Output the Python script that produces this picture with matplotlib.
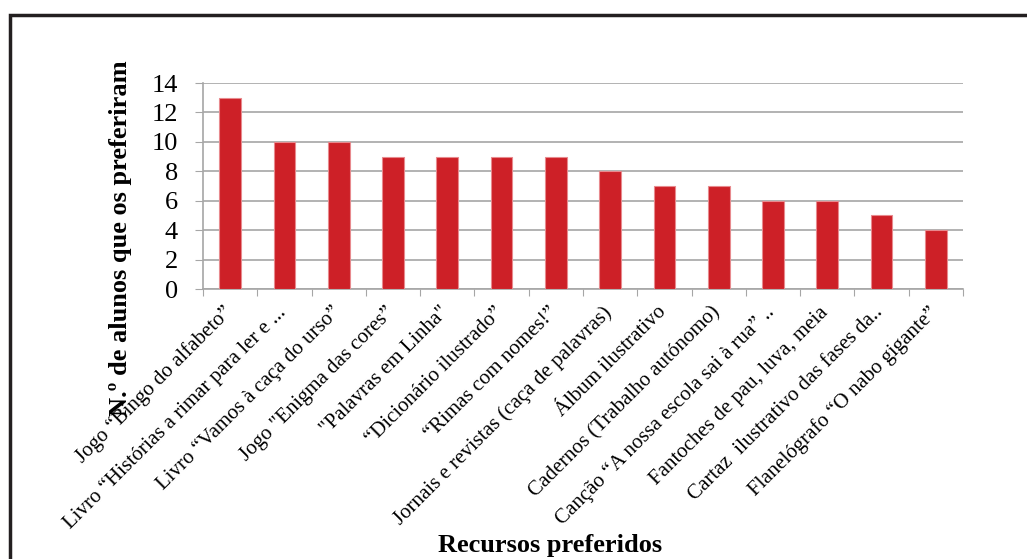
import matplotlib
matplotlib.use("Agg")
import matplotlib.pyplot as plt
import matplotlib.transforms as mtransforms
from matplotlib.patches import Rectangle
import numpy as np

recursos = [
    "Jogo “Bingo do alfabeto”",
    "Livro “Histórias a rimar para ler e ...",
    "Livro “Vamos à caça do urso”",
    "Jogo \"Enigma das cores”",
    "\"Palavras em Linha\"",
    "“Dicionário ilustrado”",
    "“Rimas com nomes!”",
    "Jornais e revistas (caça de palavras)",
    "Álbum ilustrativo",
    "Cadernos (Trabalho autónomo)",
    "Canção “A nossa escola sai à rua” ..",
    "Fantoches de pau, luva, meia",
    "Cartaz  ilustrativo das fases da..",
    "Flanelógrafo “O nabo gigante”",
]
n_alunos = [13, 10, 10, 9, 9, 9, 9, 8, 7, 7, 6, 6, 5, 4]
y_ticks = [0, 2, 4, 6, 8, 10, 12, 14]

plt.rcParams["font.family"] = ["Liberation Serif", "DejaVu Serif"]

fig = plt.figure(figsize=(10.27, 5.59), dpi=100)
ax = fig.add_axes([0.1977, 0.483, 0.740, 0.3685])

x = np.arange(len(recursos))
ax.bar(x, n_alunos, width=0.4, color="#CD2027", edgecolor="#E88A8E", linewidth=0.8, zorder=3)

ax.set_xlim(-0.5, len(recursos) - 0.5)
ax.set_ylim(0, 14)
ax.set_yticks(y_ticks)
ax.yaxis.grid(True, color="#A6A6A6", linewidth=1.2, zorder=0)
ax.tick_params(axis="y", labelsize=19, length=6, color="#A6A6A6", pad=12)

# category ticks on the boundaries, labels at the centres
ax.set_xticks(np.arange(len(recursos) + 1) - 0.5)
ax.set_xticklabels([])
ax.set_xticks(x, minor=True)
ax.set_xticklabels(recursos, minor=True, rotation=45, ha="right",
                   rotation_mode="anchor", fontsize=15)
ax.tick_params(axis="x", which="major", length=5, color="#A6A6A6")
ax.tick_params(axis="x", which="minor", length=0, pad=10)

# nudge the rotated labels a little to the left
shift = mtransforms.ScaledTranslation(-8 / 100, 0, fig.dpi_scale_trans)
for lbl in ax.get_xticklabels(minor=True):
    lbl.set_transform(lbl.get_transform() + shift)

for side in ["top", "right"]:
    ax.spines[side].set_visible(False)
for side in ["left", "bottom"]:
    ax.spines[side].set_color("#A6A6A6")
    ax.spines[side].set_linewidth(1.2)

fig.text(0.117, 0.574, "N.º de alunos que os preferiram", rotation=90,
         ha="center", va="center", fontsize=19, fontweight="bold")
fig.text(0.536, 0.025, "Recursos preferidos", ha="center", va="center",
         fontsize=19, fontweight="bold")

frame = Rectangle((9.5 / 1027, -0.05), 1.2, 1 - 14.5 / 559 + 0.05,
                  transform=fig.transFigure, fill=False,
                  edgecolor="#231F20", linewidth=2.5, clip_on=False)
fig.patches.append(frame)

fig.savefig("out.png", dpi=100)
